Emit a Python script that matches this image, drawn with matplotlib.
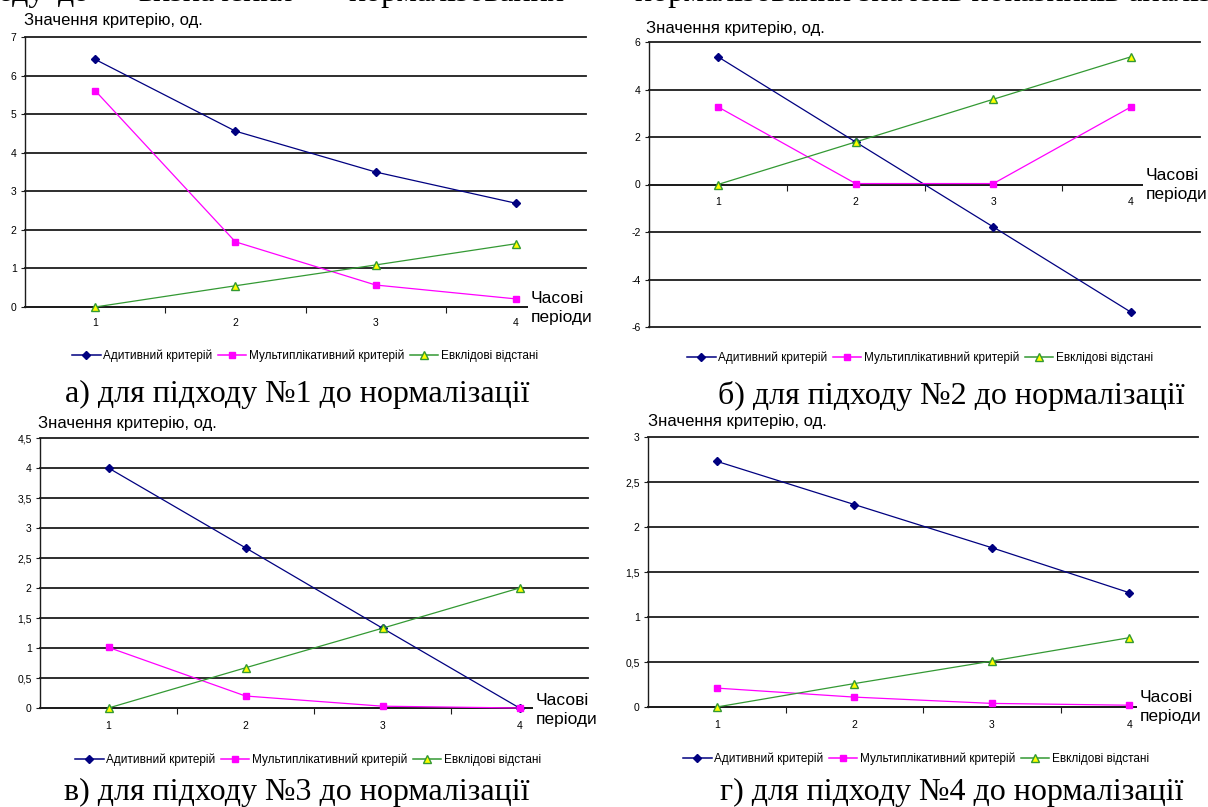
import matplotlib

matplotlib.use("Agg")
import matplotlib.pyplot as plt
from matplotlib.lines import Line2D

W, H = 1208, 807

periods = [1, 2, 3, 4]
period_labels = ["1", "2", "3", "4"]
series_names = ["Адитивний критерій", "Мультиплікативний критерій", "Евклідові відстані"]

# а) підхід №1
additive_1 = [6.42, 4.56, 3.50, 2.69]
multiplicative_1 = [5.61, 1.69, 0.57, 0.21]
euclid_1 = [0.0, 0.55, 1.09, 1.64]
yticks_1 = [0, 1, 2, 3, 4, 5, 6, 7]
ylabels_1 = ["0", "1", "2", "3", "4", "5", "6", "7"]

# б) підхід №2
additive_2 = [5.38, 1.79, -1.79, -5.38]
multiplicative_2 = [3.27, 0.04, 0.04, 3.27]
euclid_2 = [0.0, 1.79, 3.59, 5.38]
yticks_2 = [-6, -4, -2, 0, 2, 4, 6]
ylabels_2 = ["-6", "-4", "-2", "0", "2", "4", "6"]

# в) підхід №3
additive_3 = [4.0, 2.67, 1.33, 0.0]
multiplicative_3 = [1.01, 0.20, 0.03, 0.0]
euclid_3 = [0.0, 0.67, 1.33, 2.0]
yticks_3 = [0, 0.5, 1, 1.5, 2, 2.5, 3, 3.5, 4, 4.5]
ylabels_3 = ["0", "0,5", "1", "1,5", "2", "2,5", "3", "3,5", "4", "4,5"]

# г) підхід №4
additive_4 = [2.73, 2.25, 1.77, 1.27]
multiplicative_4 = [0.21, 0.11, 0.04, 0.02]
euclid_4 = [0.0, 0.26, 0.51, 0.77]
yticks_4 = [0, 0.5, 1, 1.5, 2, 2.5, 3]
ylabels_4 = ["0", "0,5", "1", "1,5", "2", "2,5", "3"]

captions = [
    "а) для підходу №1 до нормалізації",
    "б) для підходу №2 до нормалізації",
    "в) для підходу №3 до нормалізації",
    "г) для підходу №4 до нормалізації",
]

SANS = "Liberation Sans"
SERIF = "Liberation Serif"
STYLES = [
    dict(color="#000080", marker="D", markersize=3.6, markerfacecolor="#000080", markeredgecolor="#000080"),
    dict(color="#FF00FF", marker="s", markersize=4.6, markerfacecolor="#FF00FF", markeredgecolor="#FF00FF"),
    dict(color="#339933", marker="^", markersize=5.2, markerfacecolor="#FFFF00", markeredgecolor="#339933"),
]


def fx(x):
    return x / W


def fy(y):
    return 1 - y / H


def panel(fig, box, series, yticks, ylabels, xlab_y, legend_xy, cap_xy, caption, label_xy, note_xy):
    x0, x1, y0, y1 = box
    ax = fig.add_axes([fx(x0), fy(y1), (x1 - x0) / W, (y1 - y0) / H])
    ax.set_xlim(0.5, 4.5)
    ax.set_ylim(yticks[0], yticks[-1])
    for y in yticks:
        ax.axhline(y, color="#1c1c1c", lw=1.3, clip_on=False, zorder=1)
    for vals, st in zip(series, STYLES):
        ax.plot(periods, vals, lw=0.9, zorder=3, clip_on=False, **st)
    for side in ("top", "right"):
        ax.spines[side].set_visible(False)
    ax.spines["left"].set_color("#1c1c1c")
    ax.spines["left"].set_linewidth(1.0)
    ax.spines["bottom"].set_position(("data", 0))
    ax.spines["bottom"].set_color("#1c1c1c")
    ax.spines["bottom"].set_linewidth(1.3)
    ax.set_yticks(yticks)
    ax.set_yticklabels(ylabels, fontsize=7.5, family=SANS)
    ax.tick_params(axis="y", length=3, width=0.8, pad=3, color="#1c1c1c")
    ax.set_xticks(periods)
    ax.set_xticks([1.5, 2.5, 3.5], minor=True)
    ax.set_xticklabels([])
    ax.tick_params(axis="x", which="major", length=0)
    ax.tick_params(axis="x", which="minor", length=4, width=0.8, color="#1c1c1c")
    for p, lab in zip(periods, period_labels):
        xp = ax.transData.transform((p, 0))[0] / W
        fig.text(xp, fy(xlab_y), lab, fontsize=7.5, family=SANS, ha="center", va="center")
    ax.patch.set_visible(False)

    fig.text(fx(label_xy[0]), fy(label_xy[1]), "Значення критерію, од.", fontsize=12,
             family=SANS, ha="left", va="center")
    fig.text(fx(note_xy[0]), fy(note_xy[1]), "Часові\nперіоди", fontsize=12.5, family=SANS,
             ha="left", va="center", linespacing=1.3, zorder=5,
             bbox=dict(facecolor="white", edgecolor="none", pad=2))

    handles = [Line2D([], [], lw=1.1, **st) for st in STYLES]
    fig.legend(handles, series_names, loc="center", bbox_to_anchor=(fx(legend_xy[0]), fy(legend_xy[1])),
               ncol=3, frameon=False, prop=dict(family=SANS, size=8.5), handlelength=2.4,
               handletextpad=0.2, columnspacing=0.5, borderpad=0)
    fig.text(fx(cap_xy[0]), fy(cap_xy[1]), caption, fontsize=23, family=SERIF,
             ha="center", va="baseline")
    return ax


fig = plt.figure(figsize=(W / 100, H / 100), dpi=100)

panel(fig, (25, 586, 37, 307), [additive_1, multiplicative_1, euclid_1], yticks_1, ylabels_1,
      323, (305, 356), (297, 402), captions[0], (24, 21), (531, 308))
panel(fig, (649, 1200, 42, 327), [additive_2, multiplicative_2, euclid_2], yticks_2, ylabels_2,
      202, (920, 358), (951, 404), captions[1], (646, 29), (1146, 185))
panel(fig, (40, 588, 438, 708), [additive_3, multiplicative_3, euclid_3], yticks_3, ylabels_3,
      726, (308, 760), (297, 800), captions[2], (38, 424), (536, 710))
panel(fig, (648, 1198, 437, 707), [additive_4, multiplicative_4, euclid_4], yticks_4, ylabels_4,
      725, (916, 759), (952, 800), captions[3], (648, 421), (1140, 707))

# text of the page above the charts, cut by the top edge
fig.text(fx(-2), fy(1), "оду", fontsize=23, family=SERIF, ha="left", va="baseline")
fig.text(fx(58), fy(1), "до", fontsize=23, family=SERIF, ha="left", va="baseline")
fig.text(fx(138), fy(1), "визначення", fontsize=23, family=SERIF, ha="left", va="baseline")
fig.text(fx(348), fy(1), "нормалізованих", fontsize=23, family=SERIF, ha="left", va="baseline")
fig.text(fx(635), fy(1), "нормалізованих значень показників аналізу", fontsize=23, family=SERIF,
         ha="left", va="baseline")

fig.savefig("out.png", dpi=100, facecolor="white")
